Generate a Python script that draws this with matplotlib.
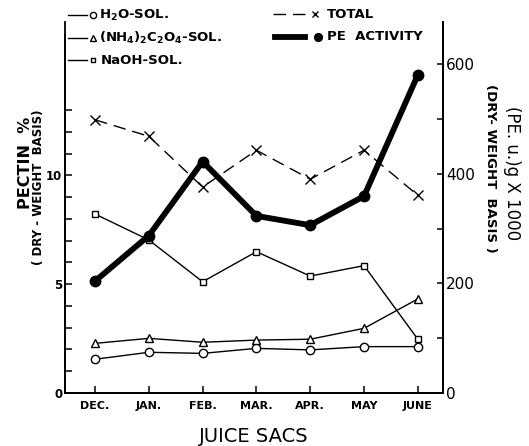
import numpy as np
import matplotlib.pyplot as plt
from matplotlib.lines import Line2D

months = ['DEC.', 'JAN.', 'FEB.', 'MAR.', 'APR.', 'MAY', 'JUNE']
h2o_sol = [1.55, 1.87, 1.82, 2.05, 1.98, 2.13, 2.13]
nh4_sol = [2.28, 2.51, 2.33, 2.43, 2.47, 2.97, 4.32]
naoh_sol = [8.22, 7.03, 5.11, 6.49, 5.37, 5.85, 2.47]
total = [12.55, 11.79, 9.46, 11.15, 9.82, 11.15, 9.08]
pe_activity = [204, 287, 422, 323, 306, 359, 580]

W, H = 529, 446
fig = plt.figure(figsize=(W / 100, H / 100), dpi=100)
ax = fig.add_axes([65 / W, 1 - 393 / H, (443 - 65) / W, (393 - 22) / H])
ax2 = ax.twinx()

x = np.arange(len(months))
thin = dict(color='black', lw=1.0, mfc='white', mec='black', mew=1.0)
st_h2o = dict(marker='o', ms=6, **thin)
st_nh4 = dict(marker='^', ms=6, **thin)
st_naoh = dict(marker='s', ms=4.8, **thin)
st_tot = dict(marker='x', ms=6.5, color='black', lw=1.0, mew=1.0, dashes=(9, 5))
st_pe = dict(marker='o', ms=7.5, color='black', lw=4.2)

ax.plot(x, h2o_sol, **st_h2o)
ax.plot(x, nh4_sol, **st_nh4)
ax.plot(x, naoh_sol, **st_naoh)
ax.plot(x, total, **st_tot)
ax2.plot(x, pe_activity, **st_pe)

ax.set_xlim(-0.558, 6.468)
ax.set_ylim(0, 17.04)
ax2.set_ylim(0, 676.6)

for a in (ax, ax2):
    a.spines['top'].set_visible(False)
    for s in a.spines.values():
        s.set_linewidth(1.3)
ax.spines['left'].set_bounds(0, 16.44)

ax.set_xticks(x)
ax.set_xticklabels(months, fontsize=8, fontweight='bold')
ax.set_yticks([0, 5, 10])
ax.set_yticklabels(['0', '5', '10'], fontsize=8.5, fontweight='bold')
ax.set_yticks(range(1, 14), minor=True)
ax.tick_params(axis='both', which='both', direction='in', length=5, width=1.1)
ax.tick_params(axis='x', pad=6)
ax.tick_params(axis='y', pad=2)

ax2.set_yticks([0, 200, 400, 600])
ax2.set_yticklabels(['0', '200', '400', '600'], fontsize=11)
ax2.set_yticks([100, 300, 500], minor=True)
ax2.tick_params(axis='y', which='both', direction='in', length=4, width=1.1, pad=2)

ax.set_xlabel('JUICE SACS', fontsize=14, labelpad=11)
fig.text(26 / W, 1 - 163 / H, 'PECTIN  %', rotation=90, fontsize=11.5, fontweight='bold',
         ha='center', va='center')
fig.text(39 / W, 1 - 187 / H, '( DRY - WEIGHT  BASIS)', rotation=90, fontsize=8.5,
         fontweight='bold', ha='center', va='center')
fig.text(512 / W, 1 - 173 / H, '(PE. u.)g X 1000', rotation=-90, fontsize=12,
         ha='center', va='center')
fig.text(490 / W, 1 - 168 / H, '(DRY- WEIGHT  BASIS )', rotation=-90, fontsize=9.5,
         fontweight='bold', ha='center', va='center')


def legend_entry(x0, x1, xm, xt, y, label, style):
    fy = 1 - y / H
    kw = {k: v for k, v in style.items() if k not in ('marker', 'ms', 'mfc', 'mec', 'mew')}
    fig.add_artist(Line2D([x0 / W, x1 / W], [fy, fy], transform=fig.transFigure, **kw))
    mk = {k: v for k, v in style.items() if k in ('marker', 'mfc', 'mec', 'mew', 'color')}
    fig.add_artist(Line2D([xm / W], [fy], transform=fig.transFigure, ls='none',
                          ms=style['ms'] * 0.75, **mk))
    fig.text(xt / W, fy, label, fontsize=9.5, fontweight='bold', va='center', ha='left')


legend_entry(68, 87, 93, 99, 15, 'H$_\\mathbf{2}$O-SOL.', st_h2o)
legend_entry(68, 87, 93, 99, 38, '(NH$_\\mathbf{4}$)$_\\mathbf{2}$C$_\\mathbf{2}$O$_\\mathbf{4}$-SOL.', st_nh4)
legend_entry(68, 87, 93, 101, 60, 'NaOH-SOL.', st_naoh)
legend_entry(273, 310, 315, 327, 14, 'TOTAL', st_tot)
legend_entry(275, 305, 318, 327, 37, 'PE  ACTIVITY', st_pe)

plt.savefig('out.png', dpi=100)
